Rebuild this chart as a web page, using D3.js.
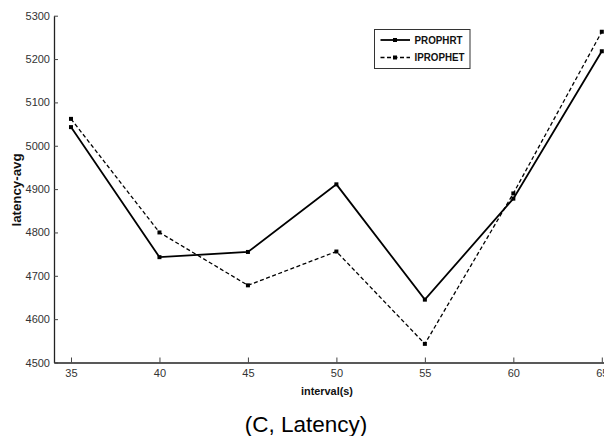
<!DOCTYPE html>
<html>
<head>
<meta charset="utf-8">
<script src="https://cdn.jsdelivr.net/npm/d3@7"></script>
<style>
  html, body { margin: 0; padding: 0; background: #fff; }
  svg { display: block; }
  .tick text { font-family: "Liberation Sans Narrow", "Arial Narrow", "Liberation Sans", sans-serif; font-size: 11px; fill: #333; }
</style>
</head>
<body>
<svg id="chart" width="604" height="436"></svg>
<script>
// Average latency per message interval for the two routing protocols
const intervals = [35, 40, 45, 50, 55, 60, 65];
const prophrt   = [5043, 4743, 4755, 4911, 4645, 4878, 5218];
const iprophet  = [5062, 4800, 4678, 4756, 4543, 4890, 5263];
const yTicks    = [4500, 4600, 4700, 4800, 4900, 5000, 5100, 5200, 5300];
const seriesNames = ["PROPHRT", "IPROPHET"];

const svg = d3.select("#chart");

const x = d3.scaleLinear().domain([34.04, 66]).range([54, 619.5]);
const y = d3.scaleLinear().domain([4500, 5300]).range([362.5, 15.7]);

// axes (left and bottom only, ticks pointing inward)
const gx = svg.append("g").attr("transform", `translate(0,${y(4500)})`)
  .call(d3.axisTop(x).tickValues(intervals).tickSize(5).tickSizeOuter(0).tickFormat(d3.format("d")));
gx.select(".domain").attr("stroke", "#222").attr("stroke-width", 1.3);
gx.selectAll(".tick line").attr("stroke", "#444");
gx.selectAll(".tick text").attr("y", 7).attr("dy", "0.71em");

const gy = svg.append("g").attr("transform", `translate(${x(34.04)},0)`)
  .call(d3.axisRight(y).tickValues(yTicks).tickSize(4).tickSizeOuter(0).tickFormat(d3.format("d")));
gy.select(".domain").attr("stroke", "#222").attr("stroke-width", 1.3);
gy.selectAll(".tick line").attr("stroke", "#444");
gy.selectAll(".tick text").attr("x", -4).attr("text-anchor", "end");

// axis titles
svg.append("text")
  .attr("x", 327).attr("y", 395)
  .attr("text-anchor", "middle")
  .attr("textLength", 52).attr("lengthAdjust", "spacingAndGlyphs")
  .style("font-family", "'Liberation Sans', Arial, sans-serif")
  .style("font-weight", "bold").style("font-size", "11.5px").attr("fill", "#111")
  .text("interval(s)");

svg.append("text")
  .attr("transform", "translate(21,190) rotate(-90)")
  .attr("text-anchor", "middle")
  .attr("textLength", 73).attr("lengthAdjust", "spacingAndGlyphs")
  .style("font-family", "'Liberation Sans', Arial, sans-serif")
  .style("font-weight", "bold").style("font-size", "12px").attr("fill", "#111")
  .text("latency-avg");

// series
const line = d3.line().x((d, i) => x(intervals[i])).y(d => y(d));
const styles = [
  { data: prophrt, width: 1.8, dash: null },
  { data: iprophet, width: 1.3, dash: "4,2.5" }
];

styles.forEach(s => {
  svg.append("path")
    .datum(s.data)
    .attr("d", line)
    .attr("fill", "none")
    .attr("stroke", "#000")
    .attr("stroke-width", s.width)
    .attr("stroke-dasharray", s.dash);
  svg.append("g").selectAll("rect")
    .data(s.data)
    .join("rect")
    .attr("x", (d, i) => x(intervals[i]) - 2)
    .attr("y", d => y(d) - 2)
    .attr("width", 4).attr("height", 4)
    .attr("fill", "#000");
});

// legend
const legendWidths = [48, 50];
const lg = svg.append("g").attr("transform", "translate(374.5,29.5)");
lg.append("rect").attr("width", 95.5).attr("height", 39)
  .attr("fill", "#fff").attr("stroke", "#333").attr("stroke-width", 1);
seriesNames.forEach((name, i) => {
  const yy = 10.5 + i * 17.5;
  lg.append("line").attr("x1", 6).attr("x2", 35.5).attr("y1", yy).attr("y2", yy)
    .attr("stroke", "#000").attr("stroke-width", styles[i].width)
    .attr("stroke-dasharray", styles[i].dash);
  lg.append("rect").attr("x", 18.5).attr("y", yy - 2).attr("width", 4).attr("height", 4).attr("fill", "#000");
  lg.append("text").attr("x", 40).attr("y", yy).attr("dy", "0.35em")
    .attr("textLength", legendWidths[i]).attr("lengthAdjust", "spacingAndGlyphs")
    .style("font-family", "'Liberation Sans Narrow', 'Arial Narrow', sans-serif")
    .style("font-weight", "bold").style("font-size", "11px").attr("fill", "#111")
    .text(name);
});

// caption
svg.append("text")
  .attr("x", 306).attr("y", 432)
  .attr("text-anchor", "middle")
  .style("font-family", "'Liberation Sans', Arial, sans-serif")
  .style("font-size", "22.5px").attr("fill", "#000")
  .text("(C, Latency)");
</script>
</body>
</html>
